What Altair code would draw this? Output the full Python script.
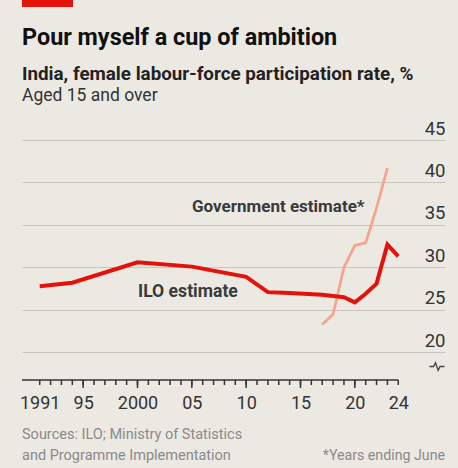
import altair as alt
import pandas as pd

# ---------------- data ----------------
ilo_years = [1991, 1994, 2000, 2005, 2010, 2012, 2014, 2017, 2019, 2020, 2021, 2022, 2023, 2024]
ilo_values = [27.8, 28.2, 30.6, 30.1, 28.9, 27.1, 27.0, 26.8, 26.5, 25.9, 26.9, 28.1, 32.7, 31.3]

gov_years = [2017, 2018, 2019, 2020, 2021, 2022, 2023]
gov_values = [23.3, 24.5, 30.0, 32.6, 32.9, 37.0, 41.7]

y_ticks = [20, 25, 30, 35, 40, 45]
x_tick_years = list(range(1991, 2025))
x_major_years = [1995, 2000, 2005, 2010, 2015, 2020]
x_label_years = [1991, 1995, 2000, 2005, 2010, 2015, 2020, 2024]
x_label_texts = ["1991", "95", "2000", "05", "10", "15", "20", "24"]

title_text = "Pour myself a cup of ambition"
subtitle_text = "India, female labour-force participation rate, %"
subtitle2_text = "Aged 15 and over"
gov_label = "Government estimate*"
ilo_label = "ILO estimate"
source_lines = ["Sources: ILO; Ministry of Statistics", "and Programme Implementation"]
note_text = "*Years ending June"

# ---------------- style ----------------
FONT = "Roboto"
RED = "#E3120B"
SALMON = "#F5A38B"
BG = "#ECE9E2"
W, H = 423, 240
X0, X1 = 1989.37, 2028.30
Y0, Y1 = 16.76, 45

ilo_df = pd.DataFrame({"year": ilo_years, "value": ilo_values})
gov_df = pd.DataFrame({"year": gov_years, "value": gov_values})
tick_df = pd.DataFrame({"year": x_tick_years})
major_df = pd.DataFrame({"year": x_major_years})
one = pd.DataFrame({"k": [0]})

xscale = alt.Scale(domain=[X0, X1], nice=False, zero=False)
yscale = alt.Scale(domain=[Y0, Y1], nice=False, zero=False)

label_expr = "''"
for yr, lab in reversed(list(zip(x_label_years, x_label_texts))):
    label_expr = f"datum.value == {yr} ? '{lab}' : ({label_expr})"

xaxis = alt.Axis(
    values=x_label_years, grid=False, domain=False, ticks=False, tickSize=0,
    format="d", labelExpr=label_expr,
    labelFont=FONT, labelFontSize=18, labelColor="#333333",
    labelPadding=14, labelFlush=False, labelOverlap=False, labelBaseline="top",
    title=None,
)
yaxis = alt.Axis(
    orient="right", values=y_ticks, grid=True, gridColor="#C9C5BC", gridWidth=1,
    ticks=False, domain=False, labelAlign="right", labelBaseline="alphabetic",
    labelPadding=0, labelOffset=-6, labelFont=FONT, labelFontSize=18.5,
    labelColor="#333333", title=None,
)

gov_line = alt.Chart(gov_df).mark_line(color=SALMON, strokeWidth=2.7).encode(
    x=alt.X("year:Q", scale=xscale),
    y=alt.Y("value:Q", scale=yscale),
)
ilo_line = alt.Chart(ilo_df).mark_line(color=RED, strokeWidth=4).encode(
    x=alt.X("year:Q", scale=xscale, axis=xaxis),
    y=alt.Y("value:Q", scale=yscale, axis=yaxis),
)

axis_rule = alt.Chart(one).mark_rule(color="#333333", strokeWidth=1.6).encode(
    x=alt.datum(X0), x2=alt.datum(2024), y=alt.value(H)
)
minor_ticks = alt.Chart(tick_df).mark_rule(color="#333333", strokeWidth=1.5).encode(
    x=alt.X("year:Q", scale=xscale), y=alt.value(H), y2=alt.value(H + 5)
)
major_ticks = alt.Chart(major_df).mark_rule(color="#333333", strokeWidth=1.5).encode(
    x=alt.X("year:Q", scale=xscale), y=alt.value(H), y2=alt.value(H + 8)
)

brk = alt.Chart(one).mark_point(
    shape="M-1,0L-0.45,0L-0.2,-0.5L0.15,0.5L0.4,0L1,0",
    size=225, filled=False, opacity=1, strokeWidth=1.4, color="#444444",
).encode(x=alt.value(415), y=alt.value(226.5))


def txt(text, x, y, size, weight="normal", color="#111111", align="left"):
    return alt.Chart(one).mark_text(
        font=FONT, fontSize=size, fontWeight=weight, color=color,
        align=align, baseline="alphabetic",
    ).encode(text=alt.value(text), x=alt.value(x), y=alt.value(y))


red_bar = alt.Chart(one).mark_rect(color=RED).encode(
    x=alt.value(0), x2=alt.value(51), y=alt.value(-140), y2=alt.value(-133)
)

texts = [
    txt(title_text, 0, -95, 23.4, "bold", "#111111"),
    txt(subtitle_text, 0, -60, 18.8, "bold", "#222222"),
    txt(subtitle2_text, 0, -39, 17.5, "normal", "#333333"),
    txt(gov_label, 170, 71.5, 17, "bold", "#3a3a3a"),
    txt(ilo_label, 116, 156.5, 17.6, "bold", "#3a3a3a"),
    txt(source_lines[0], 0, 299, 14.5, "normal", "#8a8a8a"),
    txt(source_lines[1], 0, 320, 14.5, "normal", "#8a8a8a"),
    txt(note_text, W, 320, 14.2, "normal", "#8a8a8a", "right"),
]

chart = alt.layer(
    gov_line, ilo_line, axis_rule, minor_ticks, major_ticks, brk, red_bar, *texts
).properties(
    width=W, height=H,
    padding={"left": 22, "top": 140, "right": 13, "bottom": 88},
    autosize=alt.AutoSizeParams(type="none"),
    background=BG,
).configure_view(stroke=None)

chart.save("out.html", embed_options={"renderer": "svg", "actions": False})
